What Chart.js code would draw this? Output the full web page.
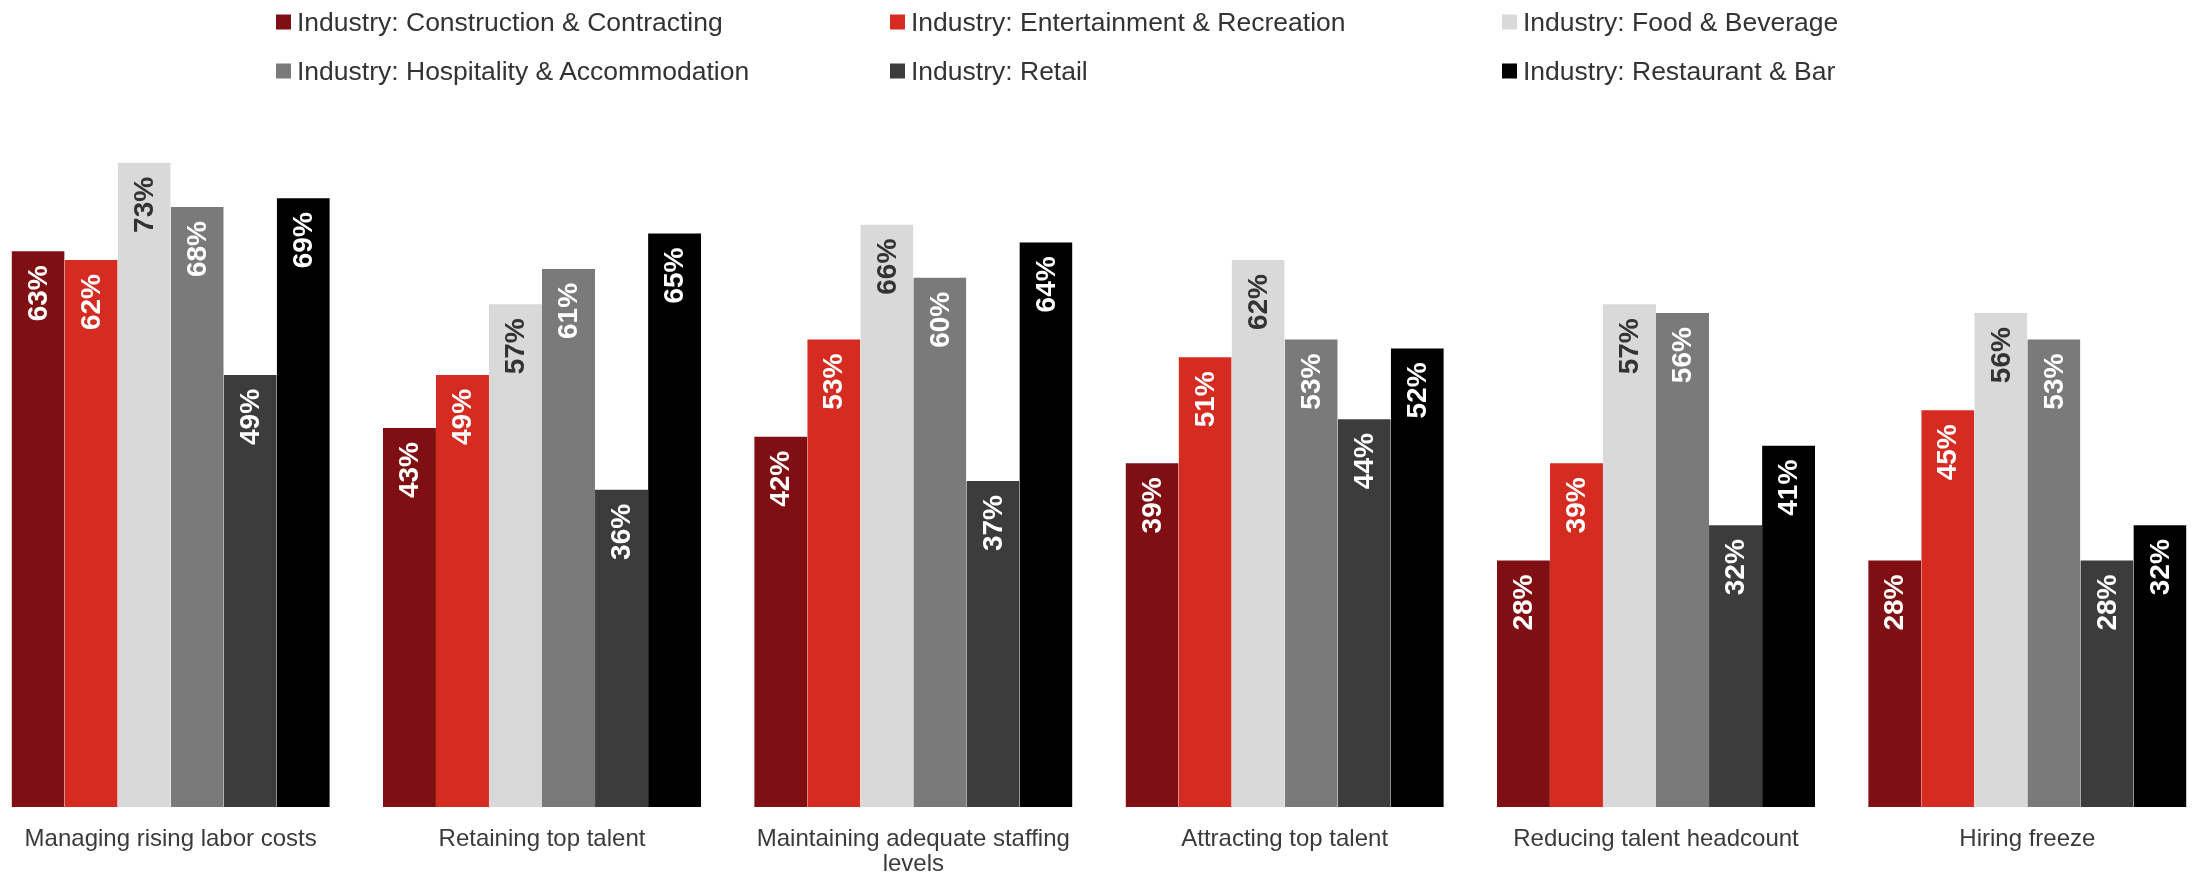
<!DOCTYPE html>
<html>
<head>
<meta charset="utf-8">
<script src="https://cdn.jsdelivr.net/npm/chart.js@4.4.1/dist/chart.umd.min.js"></script>
<style>
  html, body { margin: 0; padding: 0; background: #fff; }
  #wrap { position: relative; width: 2192px; height: 872px; overflow: hidden; }
  /* plot runs slightly past both page edges */
  #chart { position: absolute; left: -15px; top: 0; }
  .legend-item {
    position: absolute; display: flex; align-items: center;
    font-family: "Liberation Sans", Arial, sans-serif; font-size: 26.5px; color: #333;
    white-space: nowrap; transform: translateY(-50%);
  }
  .legend-item span.box { width: 15px; height: 15px; margin-right: 6px; flex: none; }
</style>
</head>
<body>
<div id="wrap">
  <canvas id="chart" width="2228" height="872"></canvas>
</div>
<script>
var categories = [
  'Managing rising labor costs',
  'Retaining top talent',
  ['Maintaining adequate staffing', 'levels'],
  'Attracting top talent',
  'Reducing talent headcount',
  'Hiring freeze'
];

var seriesNames = [
  'Industry: Construction & Contracting',
  'Industry: Entertainment & Recreation',
  'Industry: Food & Beverage',
  'Industry: Hospitality & Accommodation',
  'Industry: Retail',
  'Industry: Restaurant & Bar'
];

var construction  = [63, 43, 42, 39, 28, 28];
var entertainment = [62, 49, 53, 51, 39, 45];
var foodBeverage  = [73, 57, 66, 62, 57, 56];
var hospitality   = [68, 61, 60, 53, 56, 53];
var retail        = [49, 36, 37, 44, 32, 28];
var restaurantBar = [69, 65, 64, 52, 41, 32];

var seriesValues = [construction, entertainment, foodBeverage, hospitality, retail, restaurantBar];
var colors = ['#7F0F12', '#D62B20', '#D9D9D9', '#7A7A7A', '#3C3C3C', '#000000'];
var labelColors = ['#fff', '#fff', '#333', '#fff', '#fff', '#fff'];

// legend: 3 columns x 2 rows
var legendCols = [276, 890, 1502];
var legendRows = [22, 71];
var wrap = document.getElementById('wrap');
seriesNames.forEach(function (name, i) {
  var item = document.createElement('div');
  item.className = 'legend-item';
  item.style.left = legendCols[i % 3] + 'px';
  item.style.top = legendRows[Math.floor(i / 3)] + 'px';
  var box = document.createElement('span');
  box.className = 'box';
  box.style.background = colors[i];
  item.appendChild(box);
  item.appendChild(document.createTextNode(name));
  wrap.appendChild(item);
});

// rotated percentage labels inside the top of each bar
var barLabels = {
  id: 'barLabels',
  afterDatasetsDraw: function (chart) {
    var ctx = chart.ctx;
    ctx.save();
    ctx.font = 'bold 28px "Liberation Sans", Arial, sans-serif';
    ctx.textAlign = 'right';
    ctx.textBaseline = 'middle';
    chart.data.datasets.forEach(function (ds, di) {
      chart.getDatasetMeta(di).data.forEach(function (bar, i) {
        ctx.save();
        ctx.translate(bar.x + 1, bar.y + 15);
        ctx.rotate(-Math.PI / 2);
        ctx.fillStyle = labelColors[di];
        ctx.fillText(ds.data[i] + '%', 0, 0);
        ctx.restore();
      });
    });
    ctx.restore();
  }
};

var ctx = document.getElementById('chart').getContext('2d');
var chart = new Chart(ctx, {
  type: 'bar',
  data: {
    labels: categories,
    datasets: seriesNames.map(function (name, i) {
      return {
        label: name,
        data: seriesValues[i],
        backgroundColor: colors[i],
        borderColor: 'rgba(255,255,255,0.55)',
        borderWidth: { top: 1, left: 0, right: 0, bottom: 0 },
        categoryPercentage: 0.857,
        barPercentage: 1
      };
    })
  },
  options: {
    responsive: false,
    animation: false,
    layout: { padding: { top: 100, left: 0, right: 0, bottom: 0 } },
    plugins: {
      legend: { display: false },
      tooltip: { enabled: false }
    },
    scales: {
      x: {
        grid: { display: false },
        border: { display: false },
        ticks: {
          autoSkip: false,
          maxRotation: 0,
          padding: 12,
          color: '#3a3a3a',
          font: { family: '"Liberation Sans", Arial, sans-serif', size: 24, lineHeight: 1.05 }
        },
        afterFit: function (scale) { scale.height = 65; }
      },
      y: {
        display: false,
        min: 0,
        max: 80
      }
    }
  },
  plugins: [barLabels]
});
</script>
</body>
</html>
